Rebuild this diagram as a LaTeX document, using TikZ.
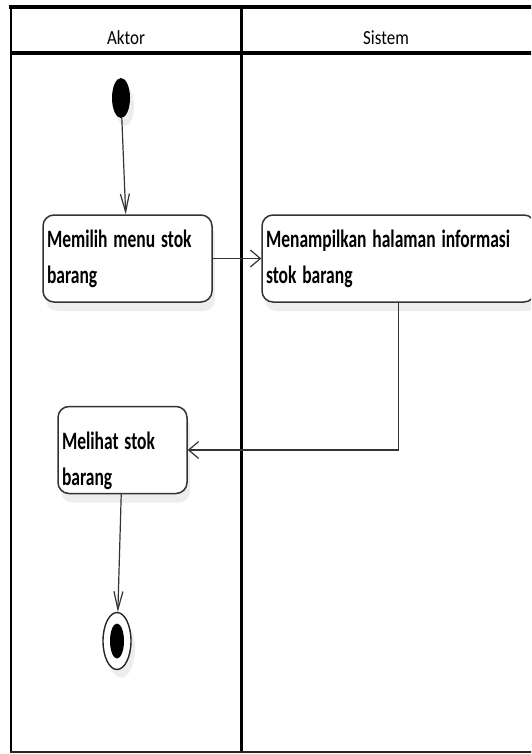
\documentclass[tikz,border=0pt]{standalone}
\usepackage{fontspec}
\setmainfont{Carlito}
\usepackage{graphicx}
\usepackage{tikz}
\usetikzlibrary{shapes.geometric,arrows.meta,shadows}
\newcommand{\narrow}[2][0.7]{\scalebox{#1}[1]{#2}}

\begin{document}
\begin{tikzpicture}[x=1pt, y=-1pt,
  head/.style={font=\fontsize{20}{24}\selectfont, inner sep=0pt},
  action/.style={draw=black!80, line width=1.5pt, rounded corners=11pt, fill=white,
    minimum height=87pt, inner xsep=4pt, inner ysep=2pt, align=left,
    font=\bfseries\fontsize{25}{36}\selectfont,
    drop shadow={shadow xshift=3pt, shadow yshift=-9pt, fill=black, opacity=0.07}},
  startnode/.style={ellipse, fill=black, minimum width=18pt, minimum height=40pt, inner sep=0pt,
    drop shadow={shadow xshift=4pt, shadow yshift=-8pt, fill=black, opacity=0.07}},
  finalnode/.style={ellipse, draw=black!85, line width=1.4pt, fill=white, minimum width=28pt,
    minimum height=57pt, inner sep=0pt,
    drop shadow={shadow xshift=4pt, shadow yshift=-8pt, fill=black, opacity=0.07}},
  finaldot/.style={ellipse, fill=black, minimum width=14pt, minimum height=35pt, inner sep=0pt},
  flow/.style={draw=black!80, line width=1.2pt, -{Straight Barb[length=10pt,width=17pt]}},
  flowdown/.style={draw=black!80, line width=1.2pt, -{Straight Barb[length=18pt,width=9pt]}}]
\path[use as bounding box, clip] (0,0) rectangle (531,754);
\fill[white] (0,0) rectangle (531,754);
% swimlanes
\draw[line width=4pt] (9,7.5) -- (540,7.5);
\draw[line width=3.5pt] (9.5,53) -- (540,53);
\draw[line width=2.5pt] (11,6) -- (11,752.5);
\draw[line width=3pt] (241.5,6) -- (241.5,752.5);
\draw[line width=2pt, black!85] (10,751.5) -- (540,751.5);
\node[head] (aktor) at (126,38) {\narrow[0.85]{Aktor}};
\node[head] (sistem) at (386,38) {\narrow[0.85]{Sistem}};
% activities
\node[startnode] (start) at (121,98) {};
\node[action, text width=161pt] (pilih) at (127.5,258.5) {\narrow{Memilih menu stok}\\\narrow{barang}};
\node[action, text width=265pt] (tampil) at (398.5,258.5) {\narrow{Menampilkan halaman informasi}\\\narrow{stok barang}};
\node[action, text width=121pt, text height=39pt] (lihat) at (122.5,450) {\narrow{Melihat stok}\\\narrow{barang}};
\node[finalnode] (final) at (117,641) {};
\node[finaldot] (finalin) at (final) {};
% flows
\path[flowdown] (start) edge (pilih);
\path[flow] (pilih) edge (tampil);
\draw[flow] (tampil.south) |- (lihat.east);
\path[flowdown] (lihat) edge (final);
\end{tikzpicture}
\end{document}
